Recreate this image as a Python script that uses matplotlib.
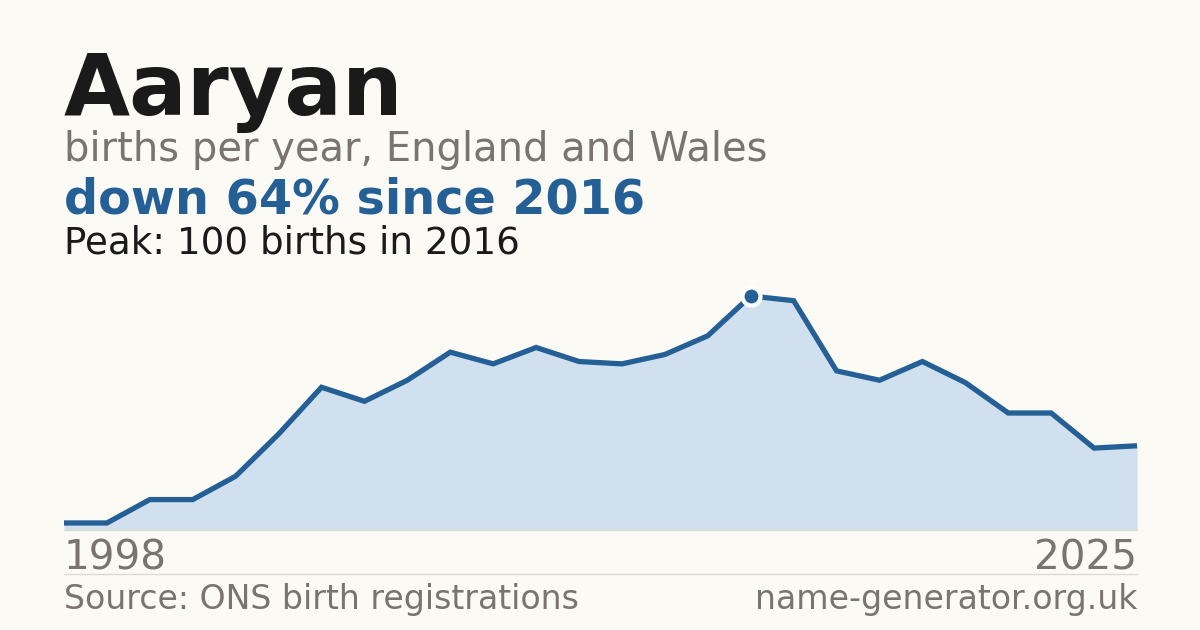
import matplotlib
matplotlib.use('Agg')
import matplotlib.pyplot as plt

# births per year
births = [3, 3, 13, 13, 23, 41, 61, 55, 64, 76, 71, 78, 72, 71, 75, 83,
          100, 98, 68, 64, 72, 63, 50, 50, 35, 36]
first_year = '1998'
last_year = '2025'
peak_index = 16

bg = '#fbfaf5'
blue = '#245f96'
grey = '#79746d'

plt.rcParams['font.family'] = ['DejaVu Sans']

fig = plt.figure(figsize=(12, 6.3), dpi=100)
fig.patch.set_facecolor(bg)

def fy(px):
    # pixel from top -> figure fraction
    return 1 - px / 630

ax = fig.add_axes([64 / 1200, 100 / 630, 1073 / 1200, 234 / 630])
ax.set_facecolor(bg)
x = list(range(len(births)))
ax.fill_between(x, births, 0, color='#d0e0ef', linewidth=0)
ax.plot(x, births, color=blue, linewidth=3.8, solid_joinstyle='miter',
        solid_capstyle='butt', clip_on=False)
ax.plot([peak_index], [births[peak_index]], 'o', markersize=13, color=blue,
        markeredgecolor='white', markeredgewidth=3, clip_on=False, zorder=5)
ax.set_xlim(0, len(births) - 1)
ax.set_ylim(0, 100)
ax.axis('off')

# baseline and separator
fig.add_artist(plt.Line2D([64 / 1200, 1137 / 1200], [fy(530), fy(530)], color='#dcdad3', linewidth=1))
fig.add_artist(plt.Line2D([64 / 1200, 1137 / 1200], [fy(574), fy(574)], color='#dcdad3', linewidth=1))

fig.text(64 / 1200, fy(115), 'Aaryan', fontsize=61.5, fontweight='bold', color='#1a1a1a', va='baseline')
fig.text(64 / 1200, fy(161), 'births per year, England and Wales', fontsize=28.8, color=grey, va='baseline')
fig.text(64 / 1200, fy(214), 'down 64% since 2016', fontsize=34.4, fontweight='bold', color=blue, va='baseline')
fig.text(64 / 1200, fy(254), 'Peak: 100 births in 2016', fontsize=26.8, color='#1a1a1a', va='baseline')

fig.text(64 / 1200, fy(569), first_year, fontsize=29.2, color=grey, va='baseline')
fig.text(1137 / 1200, fy(569), last_year, fontsize=29.2, color=grey, va='baseline', ha='right')

fig.text(64 / 1200, fy(609), 'Source: ONS birth registrations', fontsize=23.9, color=grey, va='baseline')
fig.text(1137 / 1200, fy(609), 'name-generator.org.uk', fontsize=23.9, color=grey, va='baseline', ha='right')

fig.savefig('out.png', dpi=100, facecolor=bg)
